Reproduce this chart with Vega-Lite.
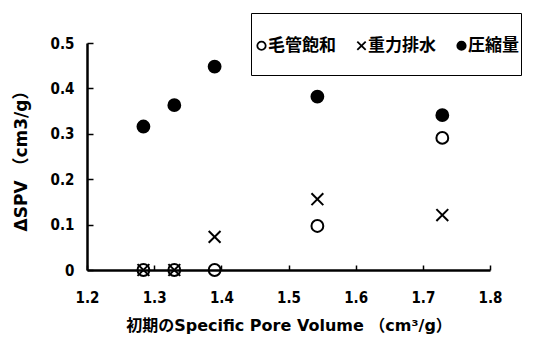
{
  "$schema": "https://vega.github.io/schema/vega-lite/v6.json",
  "width": 403,
  "height": 227,
  "autosize": {"type": "none"},
  "padding": {"left": 87, "top": 43, "right": 54, "bottom": 68},
  "background": "white",
  "config": {"view": {"stroke": null}},
  "data": {
    "values": [
      {"spv": 1.284, "dspv": 0.0, "series": "毛管飽和"},
      {"spv": 1.330, "dspv": 0.0, "series": "毛管飽和"},
      {"spv": 1.390, "dspv": 0.0, "series": "毛管飽和"},
      {"spv": 1.543, "dspv": 0.097, "series": "毛管飽和"},
      {"spv": 1.729, "dspv": 0.291, "series": "毛管飽和"},
      {"spv": 1.284, "dspv": 0.0, "series": "重力排水"},
      {"spv": 1.330, "dspv": 0.0, "series": "重力排水"},
      {"spv": 1.390, "dspv": 0.073, "series": "重力排水"},
      {"spv": 1.543, "dspv": 0.156, "series": "重力排水"},
      {"spv": 1.729, "dspv": 0.121, "series": "重力排水"},
      {"spv": 1.284, "dspv": 0.316, "series": "圧縮量"},
      {"spv": 1.330, "dspv": 0.363, "series": "圧縮量"},
      {"spv": 1.390, "dspv": 0.448, "series": "圧縮量"},
      {"spv": 1.543, "dspv": 0.382, "series": "圧縮量"},
      {"spv": 1.729, "dspv": 0.341, "series": "圧縮量"}
    ]
  },
  "mark": {"type": "point", "opacity": 1, "strokeWidth": 2, "size": 140},
  "encoding": {
    "x": {
      "field": "spv",
      "type": "quantitative",
      "scale": {"domain": [1.2, 1.8], "nice": false, "zero": false},
      "axis": {
        "title": "初期のSpecific Pore Volume （cm³/g）",
        "titleFont": "DejaVu Sans, Noto Sans CJK JP",
        "titleFontSize": 16,
        "titleFontWeight": "bold",
        "titleColor": "black",
        "titlePadding": 12,
        "values": [1.2, 1.3, 1.4, 1.5, 1.6, 1.7, 1.8],
        "format": ".1f",
        "grid": false,
        "domainColor": "black",
        "domainWidth": 2.5,
        "tickColor": "black",
        "tickWidth": 1.5,
        "tickSize": -5,
        "labelFont": "Liberation Sans Narrow, DejaVu Sans Condensed, sans-serif",
        "labelFontSize": 15,
        "labelFontWeight": "bold",
        "labelColor": "black",
        "labelPadding": 25,
        "labelFlush": false
      }
    },
    "y": {
      "field": "dspv",
      "type": "quantitative",
      "scale": {"domain": [0, 0.5], "nice": false},
      "axis": {
        "title": "ΔSPV （cm3/g）",
        "titleFont": "DejaVu Sans, Noto Sans CJK JP",
        "titleFontSize": 17,
        "titleFontWeight": "bold",
        "titleColor": "black",
        "titlePadding": 20,
        "values": [0, 0.1, 0.2, 0.3, 0.4, 0.5],
        "labelExpr": "datum.value == 0 ? '0' : format(datum.value, '.1f')",
        "grid": false,
        "domainColor": "black",
        "domainWidth": 2.5,
        "tickColor": "black",
        "tickWidth": 1.5,
        "tickSize": -6,
        "labelFont": "Liberation Sans Narrow, DejaVu Sans Condensed, sans-serif",
        "labelFontSize": 15,
        "labelFontWeight": "bold",
        "labelColor": "black",
        "labelPadding": 19,
        "labelFlush": false
      }
    },
    "shape": {
      "field": "series",
      "type": "nominal",
      "scale": {"domain": ["毛管飽和", "重力排水", "圧縮量"], "range": ["circle", "M-1,-1L1,1M1,-1L-1,1", "circle"]},
      "legend": {
        "title": " ",
        "titleFontSize": 18,
        "titlePadding": 4,
        "titleColor": "white",
        "orient": "none",
        "legendX": 164,
        "legendY": -30,
        "direction": "horizontal",
        "columns": 3,
        "columnPadding": 17,
        "padding": 2,
        "strokeColor": "black",
        "fillColor": "white",
        "symbolSize": 70,
        "symbolStrokeWidth": 1.8,
        "labelOffset": -2,
        "labelFont": "Noto Sans CJK JP",
        "labelFontSize": 17,
        "labelFontWeight": "bold",
        "labelColor": "black",
        "labelBaseline": "middle",
        "labelExpr": "[datum.label, '']"
      }
    },
    "fill": {
      "field": "series",
      "type": "nominal",
      "scale": {"domain": ["毛管飽和", "重力排水", "圧縮量"], "range": ["transparent", "transparent", "black"]},
      "legend": {
        "title": " ",
        "titleFontSize": 18,
        "titlePadding": 4,
        "titleColor": "white",
        "orient": "none",
        "legendX": 164,
        "legendY": -30,
        "direction": "horizontal",
        "columns": 3,
        "columnPadding": 17,
        "padding": 2,
        "strokeColor": "black",
        "fillColor": "white",
        "symbolSize": 70,
        "symbolStrokeWidth": 1.8,
        "labelOffset": -2,
        "labelFont": "Noto Sans CJK JP",
        "labelFontSize": 17,
        "labelFontWeight": "bold",
        "labelColor": "black",
        "labelBaseline": "middle",
        "labelExpr": "[datum.label, '']"
      }
    },
    "stroke": {
      "field": "series",
      "type": "nominal",
      "scale": {"domain": ["毛管飽和", "重力排水", "圧縮量"], "range": ["black", "black", "black"]},
      "legend": {
        "title": " ",
        "titleFontSize": 18,
        "titlePadding": 4,
        "titleColor": "white",
        "orient": "none",
        "legendX": 164,
        "legendY": -30,
        "direction": "horizontal",
        "columns": 3,
        "columnPadding": 17,
        "padding": 2,
        "strokeColor": "black",
        "fillColor": "white",
        "symbolSize": 70,
        "symbolStrokeWidth": 1.8,
        "labelOffset": -2,
        "labelFont": "Noto Sans CJK JP",
        "labelFontSize": 17,
        "labelFontWeight": "bold",
        "labelColor": "black",
        "labelBaseline": "middle",
        "labelExpr": "[datum.label, '']"
      }
    }
  }
}
